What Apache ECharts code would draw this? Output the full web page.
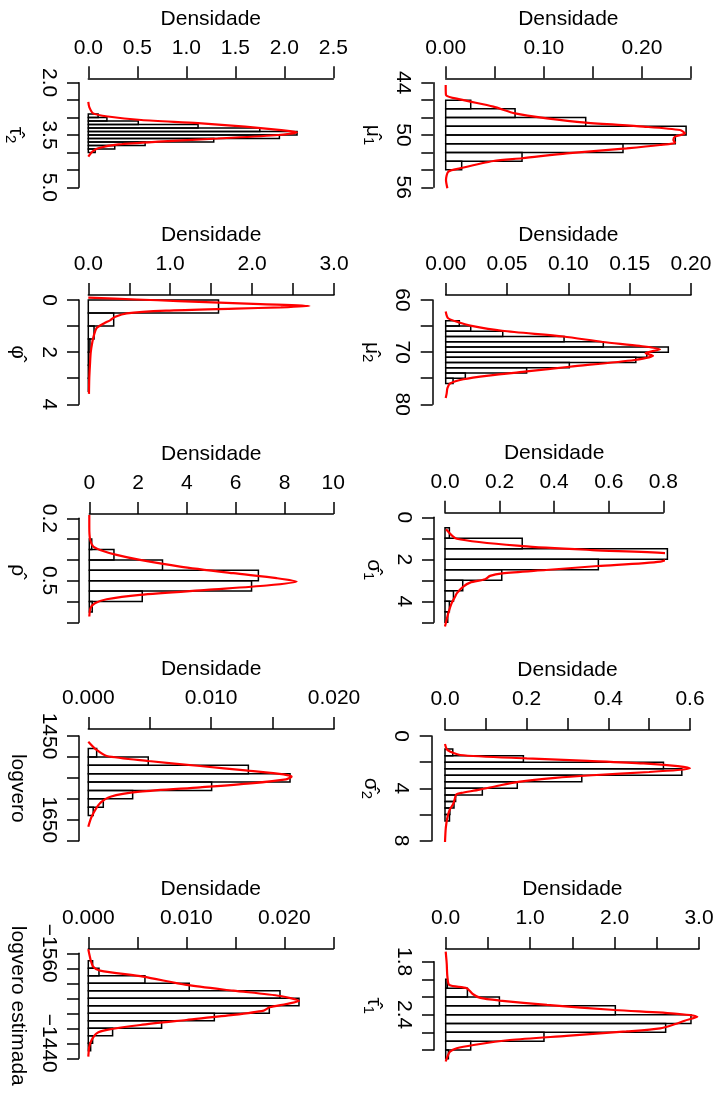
<!DOCTYPE html>
<html>
<head>
<meta charset="utf-8">
<script src="https://cdn.jsdelivr.net/npm/echarts@6/dist/echarts.min.js"></script>
<style>
html,body{margin:0;padding:0;background:#fff;}
#chart{width:719px;height:1097px;}
</style>
</head>
<body>
<div id="chart"></div>
<script>
// ================= DATA =================
// tau2 hat
const tau2Breaks = [2.9,3.0,3.1,3.2,3.3,3.4,3.5,3.6,3.7,3.8,3.9,4.0];
const tau2Density = [0.10,0.19,0.51,1.12,1.75,2.13,1.95,1.28,0.58,0.27,0.07];
const tau2CurveValue = [2.55,2.70,2.88,2.97,3.07,3.16,3.26,3.36,3.42,3.50,3.60,3.69,3.77,3.88,3.98,4.12];
const tau2CurveDensity = [0.00,0.01,0.05,0.20,0.54,1.12,1.60,1.97,2.13,1.94,1.32,0.71,0.31,0.10,0.04,0.00];
const tau2XRange = [0, 2.5, 0.5];
const tau2XLabels = ['0.0','0.5','1.0','1.5','2.0','2.5'];
const tau2YRange = [2.0, 5.0, 0.5];
const tau2YLabels = ['2.0','3.5','5.0'];

// mu1 hat
const mu1Breaks = [46,47,48,49,50,51,52,53,54];
const mu1Density = [0.0255,0.0707,0.1427,0.2450,0.2340,0.1807,0.0778,0.0163];
const mu1CurveValue = [44.27,45.41,45.91,46.75,47.52,48.09,48.59,49.04,49.43,49.81,50.19,50.57,50.88,51.15,51.53,52.10,52.67,52.98,53.82,54.20,55.16,56.11];
const mu1CurveDensity = [0.0,0.0003,0.0146,0.0486,0.0707,0.1030,0.1427,0.2014,0.2388,0.2439,0.2337,0.2320,0.2337,0.2184,0.1844,0.1233,0.0781,0.0486,0.0146,0.0027,0.0003,0.0017];
const mu1XRange = [0, 0.25, 0.05];
const mu1XLabels = ['0.00','0.10','0.20'];
const mu1YRange = [44, 56, 2];
const mu1YLabels = ['44','50','56'];

// phi hat
const phiBreaks = [0,0.5,1.0,1.5,2.0,2.5,3.0,3.5];
const phiDensity = [1.59,0.31,0.07,0.02,0.006,0.003,0.001];
const phiCurveValue = [-0.09,-0.02,0.04,0.10,0.16,0.23,0.28,0.33,0.41,0.51,0.64,0.77,0.90,1.08,1.34,1.60,2.00,2.50,3.00,3.60];
const phiCurveDensity = [0.0,0.59,1.10,1.60,2.10,2.70,2.35,1.80,0.95,0.47,0.33,0.27,0.19,0.10,0.07,0.05,0.03,0.02,0.012,0.008];
const phiXRange = [0, 3.0, 0.5];
const phiXLabels = ['0.0','1.0','2.0','3.0'];
const phiYRange = [0, 4, 1];
const phiYLabels = ['0','2','4'];

// mu2 hat
const mu2Breaks = [64,65,66,67,68,69,70,71,72,73,74,75,76];
const mu2Density = [0.0111,0.0204,0.0465,0.0965,0.1285,0.1815,0.1640,0.1550,0.1008,0.0660,0.0160,0.0060];
const mu2CurveValue = [62.2,63.5,64.35,64.9,65.9,67.0,68.05,68.8,69.45,70.2,70.7,71.5,72.8,73.7,74.5,75.2,76.0,76.9,77.9,78.8];
const mu2CurveDensity = [0.0,0.002,0.0117,0.020,0.046,0.096,0.128,0.158,0.1747,0.163,0.169,0.154,0.101,0.066,0.035,0.0144,0.0035,0.0014,0.0008,0.0];
const mu2XRange = [0, 0.20, 0.05];
const mu2XLabels = ['0.00','0.05','0.10','0.15','0.20'];
const mu2YRange = [60, 80, 5];
const mu2YLabels = ['60','70','80'];

// rho hat
const rhoBreaks = [0.30,0.35,0.40,0.45,0.50,0.55,0.60,0.65];
const rhoDensity = [0.10,1.01,3.00,6.93,6.65,2.17,0.12];
const rhoCurveValue = [0.184,0.24,0.30,0.336,0.352,0.376,0.40,0.432,0.464,0.488,0.504,0.523,0.544,0.568,0.589,0.608,0.632,0.672];
const rhoCurveDensity = [0.0,0.0,0.03,0.16,0.44,1.12,2.08,3.72,5.90,7.68,8.50,7.27,4.81,2.08,0.71,0.23,0.05,0.0];
const rhoXRange = [0, 10, 2];
const rhoXLabels = ['0','2','4','6','8','10'];
const rhoYRange = [0.2, 0.7, 0.1];
const rhoYLabels = ['0.2','0.5'];

// sigma1 hat
const sigma1Breaks = [0.5,1.0,1.5,2.0,2.5,3.0,3.5,4.0,4.5,5.0];
const sigma1Density = [0.016,0.283,0.815,0.562,0.208,0.065,0.031,0.016,0.010];
const sigma1CurveValue = [0.57,1.02,1.37,1.56,1.71,1.87,2.11,2.32,2.51,2.67,2.79,2.95,3.11,3.30,3.62,3.78,4.10,4.57,5.20];
const sigma1CurveDensity = [0.004,0.043,0.283,0.54,0.81,0.833,0.79,0.56,0.37,0.21,0.165,0.147,0.092,0.067,0.043,0.037,0.024,0.012,0.0];
const sigma1XRange = [0, 0.8, 0.2];
const sigma1XLabels = ['0.0','0.2','0.4','0.6','0.8'];
const sigma1YRange = [0, 5, 1];
const sigma1YLabels = ['0','2','4'];

// logvero
const logvBreaks = [1480,1500,1520,1540,1560,1580,1600,1620,1640];
const logvDensity = [0.00068,0.00488,0.01303,0.01642,0.01004,0.00361,0.00122,0.00040];
const logvCurveValue = [1463.5,1483.4,1497.8,1509.7,1521.7,1532.8,1541.6,1547.1,1553.5,1563.1,1572.6,1583.0,1594.9,1610.8,1642.7,1666.6];
const logvCurveDensity = [0,0.00068,0.0015,0.0049,0.0091,0.0130,0.0159,0.01655,0.0161,0.0132,0.0091,0.0042,0.0018,0.00095,0.00027,0];
const logvXRange = [0, 0.020, 0.005];
const logvXLabels = ['0.000','0.010','0.020'];
const logvYRange = [1450, 1700, 50];
const logvYLabels = ['1450','1650'];

// sigma2 hat
const sigma2Breaks = [1.0,1.5,2.0,2.5,3.0,3.5,4.0,4.5,5.0,5.5,6.0,6.5];
const sigma2Density = [0.019,0.192,0.535,0.580,0.335,0.177,0.0914,0.026,0.022,0.012,0.011];
const sigma2CurveValue = [0.61,1.07,1.45,1.71,1.90,2.09,2.30,2.47,2.60,2.75,3.00,3.20,3.50,3.80,4.10,4.35,4.45,4.80,5.20,5.60,6.20,7.00,8.10];
const sigma2CurveDensity = [0.0,0.006,0.037,0.200,0.350,0.486,0.570,0.600,0.570,0.500,0.360,0.270,0.180,0.130,0.085,0.040,0.028,0.024,0.020,0.012,0.006,0.002,0.0];
const sigma2XRange = [0, 0.6, 0.1];
const sigma2XLabels = ['0.0','0.2','0.4','0.6'];
const sigma2YRange = [0, 8, 2];
const sigma2YLabels = ['0','4','8'];

// logvero estimada
const logeBreaks = [-1550,-1540,-1530,-1520,-1510,-1500,-1490,-1480,-1470,-1460,-1450,-1440,-1430];
const logeDensity = [0.00044,0.00109,0.00578,0.01030,0.01956,0.02150,0.01847,0.01286,0.00748,0.00248,0.00044,0.00024];
const logeCurveValue = [-1565.3,-1551.1,-1542.2,-1536.9,-1528.9,-1517.8,-1510.2,-1503.1,-1496.4,-1492.4,-1488.0,-1483.6,-1477.8,-1471.1,-1464.4,-1457.8,-1453.3,-1444.4,-1435.6,-1422.2];
const logeCurveDensity = [0,0.00024,0.0005,0.0012,0.0056,0.0100,0.0148,0.0196,0.0215,0.0202,0.0185,0.0179,0.0148,0.0100,0.0053,0.0019,0.00085,0.00034,0.0001,0];
const logeXRange = [0, 0.025, 0.005];
const logeXLabels = ['0.000','0.010','0.020'];
const logeYRange = [-1560, -1420, 20];
const logeYLabels = ['\u22121560','\u22121440'];

// tau1 hat
const tau1Breaks = [2.0,2.1,2.2,2.3,2.4,2.5,2.6,2.7,2.8,2.9];
const tau1Density = [0.020,0.257,0.636,2.009,2.905,2.605,1.164,0.296,0.032];
const tau1CurveValue = [1.687,1.82,1.97,2.064,2.10,2.166,2.21,2.24,2.29,2.347,2.39,2.423,2.468,2.506,2.555,2.59,2.64,2.687,2.743,2.78,2.82,2.876,2.93];
const tau1CurveDensity = [0,0.012,0.02,0.043,0.25,0.32,0.41,0.64,1.20,2.0,2.74,2.98,2.83,2.72,2.54,2.14,1.43,0.76,0.33,0.13,0.05,0.02,0];
const tau1XRange = [0, 3.0, 0.5];
const tau1XLabels = ['0.0','1.0','2.0','3.0'];
const tau1YRange = [1.8, 2.8, 0.2];
const tau1YLabels = ['1.8','2.4'];

const xTitle = 'Densidade';

// ================= LAYOUT (pixels) =================
const FONT = '"Liberation Sans", Arial, Helvetica, sans-serif';
const panels = [
  {label:'{g|\u03C4\u0302}{s|2}', breaks:tau2Breaks, dens:tau2Density, cv:tau2CurveValue, cd:tau2CurveDensity, xr:tau2XRange, xl:tau2XLabels, yr:tau2YRange, yl:tau2YLabels,
   x0:88.3, x1:333.3, y0:82.7, y1:187.3, xLine:78.3, yLine:79, nameGap:51},
  {label:'{g|\u03BC\u0302}{s|1}', breaks:mu1Breaks, dens:mu1Density, cv:mu1CurveValue, cd:mu1CurveDensity, xr:mu1XRange, xl:mu1XLabels, yr:mu1YRange, yl:mu1YLabels,
   x0:445.7, x1:691, y0:82.7, y1:187.3, xLine:78.3, yLine:433.3, nameGap:48},
  {label:'{g|\u03C6\u0302}', breaks:phiBreaks, dens:phiDensity, cv:phiCurveValue, cd:phiCurveDensity, xr:phiXRange, xl:phiXLabels, yr:phiYRange, yl:phiYLabels,
   x0:88.3, x1:334, y0:300, y1:404.3, xLine:295, yLine:79, nameGap:51},
  {label:'{g|\u03BC\u0302}{s|2}', breaks:mu2Breaks, dens:mu2Density, cv:mu2CurveValue, cd:mu2CurveDensity, xr:mu2XRange, xl:mu2XLabels, yr:mu2YRange, yl:mu2YLabels,
   x0:445.7, x1:691, y0:300, y1:404.3, xLine:295, yLine:432.7, nameGap:48},
  {label:'{g|\u03C1\u0302}', breaks:rhoBreaks, dens:rhoDensity, cv:rhoCurveValue, cd:rhoCurveDensity, xr:rhoXRange, xl:rhoXLabels, yr:rhoYRange, yl:rhoYLabels,
   x0:89.3, x1:333.3, y0:518.3, y1:622.3, xLine:514, yLine:79, nameGap:51},
  {label:'{g|\u03C3\u0302}{s|1}', breaks:sigma1Breaks, dens:sigma1Density, cv:sigma1CurveValue, cd:sigma1CurveDensity, xr:sigma1XRange, xl:sigma1XLabels, yr:sigma1YRange, yl:sigma1YLabels,
   x0:445, x1:663.3, y0:517.3, y1:622.3, xLine:512.7, yLine:434, nameGap:48},
  {label:'{g|logvero}', breaks:logvBreaks, dens:logvDensity, cv:logvCurveValue, cd:logvCurveDensity, xr:logvXRange, xl:logvXLabels, yr:logvYRange, yl:logvYLabels,
   x0:88.3, x1:334, y0:736, y1:840.7, xLine:729, yLine:79, nameGap:51},
  {label:'{g|\u03C3\u0302}{s|2}', breaks:sigma2Breaks, dens:sigma2Density, cv:sigma2CurveValue, cd:sigma2CurveDensity, xr:sigma2XRange, xl:sigma2XLabels, yr:sigma2YRange, yl:sigma2YLabels,
   x0:445, x1:690, y0:736, y1:840.7, xLine:730, yLine:431.7, nameGap:48},
  {label:'{g|logvero estimada}', breaks:logeBreaks, dens:logeDensity, cv:logeCurveValue, cd:logeCurveDensity, xr:logeXRange, xl:logeXLabels, yr:logeYRange, yl:logeYLabels,
   x0:88.3, x1:333.3, y0:953.3, y1:1058.3, xLine:949, yLine:79, nameGap:51},
  {label:'{g|\u03C4\u0302}{s|1}', breaks:tau1Breaks, dens:tau1Density, cv:tau1CurveValue, cd:tau1CurveDensity, xr:tau1XRange, xl:tau1XLabels, yr:tau1YRange, yl:tau1YLabels,
   x0:445.7, x1:699, y0:961.7, y1:1050, xLine:949, yLine:434, nameGap:48}
];

function labelFormatter(labels) {
  return function (v) {
    for (const s of labels) {
      const n = parseFloat(s.replace('\u2212', '-'));
      if (Math.abs(n - v) < 1e-7 * Math.max(1, Math.abs(v))) return s;
    }
    return '';
  };
}

function histItem(params, api) {
  const lo = api.value(0), hi = api.value(1), d = api.value(2);
  const p0 = api.coord([0, lo]);
  const p1 = api.coord([d, hi]);
  return {
    type: 'rect',
    shape: {x: p0[0], y: p0[1], width: p1[0] - p0[0], height: p1[1] - p0[1]},
    style: {fill: 'none', stroke: '#000', lineWidth: 1.5}
  };
}

const grids = [], xAxes = [], yAxes = [], series = [];
const axisLineStyle = {color: '#000', width: 1.5};
panels.forEach((p, i) => {
  grids.push({left: p.x0, top: p.y0, width: p.x1 - p.x0, height: p.y1 - p.y0,
    containLabel: false, outerBoundsMode: 'none'});
  xAxes.push({
    gridIndex: i, type: 'value', position: 'top',
    min: p.xr[0], max: p.xr[1], interval: p.xr[2],
    offset: p.y0 - p.xLine,
    name: xTitle, nameLocation: 'middle', nameGap: 49, nameMoveOverlap: false,
    nameTextStyle: {fontSize: 21, color: '#000', fontFamily: FONT},
    axisLine: {show: true, onZero: false, lineStyle: axisLineStyle},
    axisTick: {show: true, inside: false, length: 12, lineStyle: axisLineStyle},
    axisLabel: {show: true, fontSize: 21, color: '#000', fontFamily: FONT, margin: 20,
      formatter: labelFormatter(p.xl), hideOverlap: false},
    splitLine: {show: false}
  });
  yAxes.push({
    gridIndex: i, type: 'value', position: 'left', inverse: true,
    min: p.yr[0], max: p.yr[1], interval: p.yr[2],
    offset: p.x0 - p.yLine,
    name: p.label, nameLocation: 'middle', nameRotate: -90, nameGap: p.nameGap, nameMoveOverlap: false,
    nameTextStyle: {fontSize: 21, color: '#000', fontFamily: FONT,
      rich: {g: {fontSize: 21, fontFamily: FONT, color: '#000'},
             s: {fontSize: 15, fontFamily: FONT, color: '#000', padding: [10, 0, 0, 0]}}},
    axisLine: {show: true, onZero: false, lineStyle: axisLineStyle},
    axisTick: {show: true, inside: false, length: 12, lineStyle: axisLineStyle},
    axisLabel: {show: true, rotate: -90, fontSize: 21, color: '#000', fontFamily: FONT, margin: 20,
      formatter: labelFormatter(p.yl), hideOverlap: false},
    splitLine: {show: false}
  });
  const bins = p.dens.map((d, k) => [p.breaks[k], p.breaks[k + 1], d]);
  series.push({
    type: 'custom', xAxisIndex: i, yAxisIndex: i, clip: false,
    renderItem: histItem, encode: {x: 2, y: [0, 1]}, data: bins, z: 2, silent: true
  });
  series.push({
    type: 'line', xAxisIndex: i, yAxisIndex: i, clip: false,
    data: p.cd.map((d, k) => [d, p.cv[k]]),
    showSymbol: false, symbol: 'none', smooth: 0.25,
    lineStyle: {color: '#ff0000', width: 2.2}, z: 3, silent: true
  });
});

const chart = echarts.init(document.getElementById('chart'), null, {renderer: 'canvas'});
chart.setOption({
  animation: false,
  backgroundColor: '#ffffff',
  grid: grids, xAxis: xAxes, yAxis: yAxes, series: series
});
</script>
</body>
</html>
